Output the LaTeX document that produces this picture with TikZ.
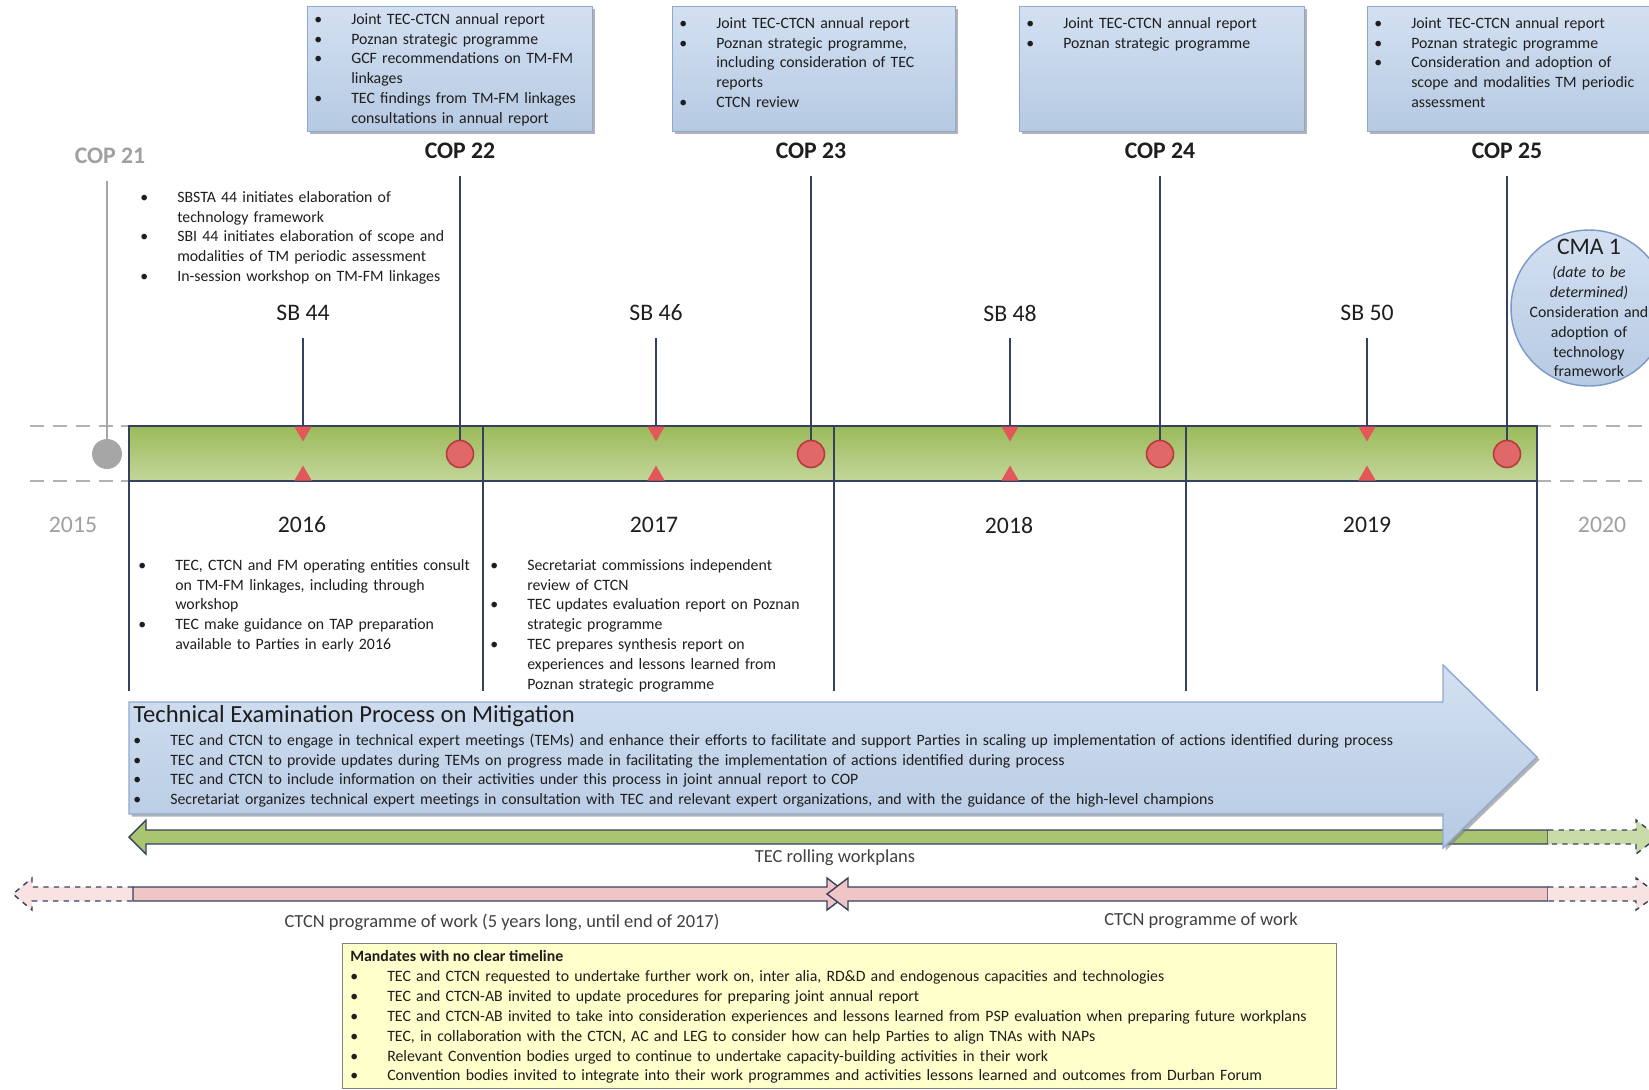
\documentclass[tikz,border=0pt]{standalone}
\usepackage{fontspec}
\setmainfont{Carlito}
\usetikzlibrary{shapes.geometric,shadows}
\definecolor{boxtop}{HTML}{D3E0F1}
\definecolor{boxbot}{HTML}{B6CAE3}
\definecolor{boxedge}{HTML}{8EA9CE}
\definecolor{bargreen}{HTML}{9BBB59}
\definecolor{bargreenb}{HTML}{C3D69B}
\definecolor{navy}{HTML}{34425E}
\definecolor{dotred}{HTML}{E06868}
\definecolor{dotedge}{HTML}{B53B3B}
\definecolor{tired}{HTML}{E25858}
\definecolor{pinkfill}{HTML}{EFC6C5}
\definecolor{palepink}{HTML}{F8E2E2}
\definecolor{palegreen}{HTML}{C9DBA6}
\definecolor{lightgrey}{HTML}{A0A0A0}
\definecolor{notefill}{HTML}{FFFFCC}
\definecolor{inktext}{HTML}{1E1E1E}
\definecolor{cmaedge}{HTML}{7A98C4}
\newcommand{\bul}{\par\noindent\hangindent=25pt\hangafter=1\makebox[25pt][l]{\hspace{4pt}\textbullet}}

\begin{document}
\begin{tikzpicture}[x=0.02cm, y=-0.02cm,
  every node/.style={text=inktext},
  txt/.style={anchor=north west, inner sep=0, align=left, text width=#1, font=\fontsize{9}{11.3}\selectfont},
  topbox/.style={draw=boxedge, top color=boxtop, bottom color=boxbot, inner sep=0, minimum height=2.5cm,
    drop shadow={shadow xshift=1.5pt, shadow yshift=-1.5pt, fill=black!50, opacity=.6}},
  cop/.style={font=\bfseries\fontsize{13.5}{16}\selectfont},
  sb/.style={font=\fontsize{13.5}{16}\selectfont},
  lbl/.style={font=\fontsize{10.5}{12}\selectfont, text=black!75},
  copdot/.style={circle, draw=dotedge, fill=dotred, line width=0.9pt, inner sep=0, minimum size=0.54cm},
  tri/.style={regular polygon, regular polygon sides=3, fill=tired, inner sep=0, minimum size=0.4cm},
  link/.style={draw=navy, line width=0.7pt},
  gridline/.style={draw=black!30, line width=0.6pt, dash pattern=on 8pt off 5pt},
  pinkarrow/.style={draw=navy, line width=0.8pt, fill=pinkfill}]
\useasboundingbox (0,0) rectangle (1649,1089);

\node[topbox, minimum width=5.7cm] (box22) at (449.5,68.5) {};
\node[topbox, minimum width=5.66cm] (box23) at (813.5,68.5) {};
\node[topbox, minimum width=5.7cm] (box24) at (1161.5,68.5) {};
\node[topbox, minimum width=5.86cm] (box25) at (1513.5,68.5) {};
\node[txt=5.6cm] (note22) at (307,4) {\bul Joint TEC-CTCN annual report \bul Poznan strategic programme \bul GCF recommendations on TM-FM\newline linkages \bul TEC findings from TM-FM linkages\newline consultations in annual report\par};
\node[txt=5.6cm] (note23) at (672,8) {\bul Joint TEC-CTCN annual report \bul Poznan strategic programme,\newline including consideration of TEC\newline reports \bul CTCN review\par};
\node[txt=5.6cm] (note24) at (1019,8) {\bul Joint TEC-CTCN annual report \bul Poznan strategic programme\par};
\node[txt=5.6cm] (note25) at (1367,8) {\bul Joint TEC-CTCN annual report \bul Poznan strategic programme \bul Consideration and adoption of\newline scope and modalities TM periodic\newline assessment\par};

\node[cop, text=lightgrey] (cop21) at (110,156) {COP 21};
\node[cop] (cop22) at (460,151) {COP 22};
\node[cop] (cop23) at (811,151) {COP 23};
\node[cop] (cop24) at (1160,151) {COP 24};
\node[cop] (cop25) at (1507,151) {COP 25};

\node[txt=8cm] (sbnote) at (133,182) {\bul SBSTA 44 initiates elaboration of\newline technology framework \bul SBI 44 initiates elaboration of scope and\newline modalities of TM periodic assessment \bul In-session workshop on TM-FM linkages\par};

\node[sb] (sb44) at (303,313) {SB 44};
\node[sb] (sb46) at (656,313) {SB 46};
\node[sb] (sb48) at (1010,313) {SB 48};
\node[sb] (sb50) at (1367,313) {SB 50};

\node[circle, draw=cmaedge, line width=0.8pt, top color=boxtop, bottom color=boxbot, minimum size=3.12cm] (cma) at (1589,308) {};
\node[align=center, text width=3.2cm, inner sep=0, font=\fontsize{9}{11.3}\selectfont] (cmatext) at (cma.center) {{\fontsize{13.5}{15}\selectfont CMA 1}\\[2pt]{\itshape (date to be\\determined)}\\Consideration and\\adoption of\\technology\\framework};

\draw[gridline] (30,426) -- (129,426);
\draw[gridline] (30,481) -- (129,481);
\draw[gridline] (1537,426) -- (1649,426);
\draw[gridline] (1537,481) -- (1649,481);
\draw[draw=navy, line width=0.8pt, top color=bargreen, bottom color=bargreenb] (129,426) rectangle (1537,481);
\draw[link] (129,481) -- (129,691);
\draw[link] (483,426) -- (483,691);
\draw[link] (834,426) -- (834,691);
\draw[link] (1186,426) -- (1186,691);
\draw[link] (1537,481) -- (1537,691);

\node[circle, fill=black!35, inner sep=0, minimum size=0.6cm] (c21) at (107,454) {};
\node[copdot] (c22) at (460,454) {};
\node[copdot] (c23) at (811,454) {};
\node[copdot] (c24) at (1160,454) {};
\node[copdot] (c25) at (1507,454) {};
\draw[draw=black!35, line width=0.7pt, shorten <=6pt] (cop21.south -| c21) -- (c21);
\draw[link, shorten <=6pt] (cop22) -- (c22);
\draw[link, shorten <=6pt] (cop23) -- (c23);
\draw[link, shorten <=6pt] (cop24) -- (c24);
\draw[link, shorten <=6pt] (cop25) -- (c25);

\node[tri, rotate=180] (t44) at (303,431.5) {};
\node[tri, rotate=180] (t46) at (656,431.5) {};
\node[tri, rotate=180] (t48) at (1010,431.5) {};
\node[tri, rotate=180] (t50) at (1367,431.5) {};
\node[tri] (u44) at (303,475.5) {};
\node[tri] (u46) at (656,475.5) {};
\node[tri] (u48) at (1010,475.5) {};
\node[tri] (u50) at (1367,475.5) {};
\draw[link, shorten <=6pt] (sb44) -- (t44);
\draw[link, shorten <=6pt] (sb46) -- (t46);
\draw[link, shorten <=6pt] (sb48) -- (t48);
\draw[link, shorten <=6pt] (sb50) -- (t50);

\node[sb, text=lightgrey] (y2015) at (73,525) {2015};
\node[sb] (y2016) at (302,525) {2016};
\node[sb] (y2017) at (654,525) {2017};
\node[sb] (y2018) at (1009,525) {2018};
\node[sb] (y2019) at (1367,525) {2019};
\node[sb, text=lightgrey] (y2020) at (1602,525) {2020};

\node[txt=8cm] (note16) at (131,550) {\bul TEC, CTCN and FM operating entities consult\newline on TM-FM linkages, including through\newline workshop \bul TEC make guidance on TAP preparation\newline available to Parties in early 2016\par};
\node[txt=8cm] (note17) at (483,550) {\bul Secretariat commissions independent\newline review of CTCN \bul TEC updates evaluation report on Poznan\newline strategic programme \bul TEC prepares synthesis report on\newline experiences and lessons learned from\newline Poznan strategic programme\par};

\draw[draw=navy, line width=0.8pt, fill=bargreen!85] (129,837) -- (146,820) -- (146,830) -- (1548,830) -- (1548,844) -- (146,844) -- (146,854) -- cycle;
\draw[draw=navy, line width=0.8pt, dashed, fill=palegreen] (1548,830) -- (1636,830) -- (1636,820) -- (1658,837) -- (1636,854) -- (1636,844) -- (1548,844);
\node[lbl] (tecwp) at (835,858) {TEC rolling workplans};

\draw[draw=boxedge, line width=0.8pt, top color=boxtop, bottom color=boxbot,
  drop shadow={shadow xshift=1.5pt, shadow yshift=-1.5pt, fill=black!50, opacity=.6}]
  (129,702) -- (1443,702) -- (1443,665) -- (1537,757) -- (1443,848) -- (1443,814) -- (129,814) -- cycle;
\node[anchor=west, inner sep=0, font=\fontsize{14}{17}\selectfont] (temhead) at (133,716) {Technical Examination Process on Mitigation};
\node[txt=27cm] (temnote) at (126,725) {\bul TEC and CTCN to engage in technical expert meetings (TEMs) and enhance their efforts to facilitate and support Parties in scaling up implementation of actions identified during process \bul TEC and CTCN to provide updates during TEMs on progress made in facilitating the implementation of actions identified during process \bul TEC and CTCN to include information on their activities under this process in joint annual report to COP \bul Secretariat organizes technical expert meetings in consultation with TEC and relevant expert organizations, and with the guidance of the high-level champions\par};

\draw[pinkarrow, dashed, fill=palepink] (133,887) -- (32,887) -- (32,878) -- (13,894) -- (32,910) -- (32,901) -- (133,901);
\draw[pinkarrow] (133,887) -- (827,887) -- (827,878) -- (848,894) -- (827,910) -- (827,901) -- (133,901) -- cycle;
\draw[pinkarrow] (848,887) -- (1548,887) -- (1548,901) -- (848,901) -- (848,910) -- (827,894) -- (848,878) -- cycle;
\draw[pinkarrow, dashed, fill=palepink] (1548,887) -- (1636,887) -- (1636,878) -- (1658,894) -- (1636,910) -- (1636,901) -- (1548,901);
\node[lbl] (ctcn1) at (502,922) {CTCN programme of work (5 years long, until end of 2017)};
\node[lbl] (ctcn2) at (1201,921) {CTCN programme of work};

\node[draw=black!50, line width=0.8pt, fill=notefill, anchor=north west, inner sep=0, minimum width=19.88cm, minimum height=2.9cm] (mandates) at (342,943) {};
\node[anchor=west, inner sep=0, font=\bfseries\fontsize{9}{11.3}\selectfont] (mandhead) at (350,956) {Mandates with no clear timeline};
\node[txt=24cm] (mandnote) at (343,961.5) {\bul TEC and CTCN requested to undertake further work on, inter alia, RD\&D and endogenous capacities and technologies \bul TEC and CTCN-AB invited to update procedures for preparing joint annual report \bul TEC and CTCN-AB invited to take into consideration experiences and lessons learned from PSP evaluation when preparing future workplans \bul TEC, in collaboration with the CTCN, AC and LEG to consider how can help Parties to align TNAs with NAPs \bul Relevant Convention bodies urged to continue to undertake capacity-building activities in their work \bul Convention bodies invited to integrate into their work programmes and activities lessons learned and outcomes from Durban Forum\par};
\end{tikzpicture}
\end{document}
